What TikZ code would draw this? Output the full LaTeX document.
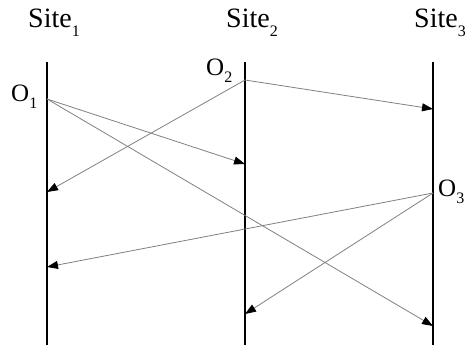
\documentclass[tikz,border=0pt]{standalone}
\usepackage{fontspec}
\setmainfont{Liberation Serif}
\usetikzlibrary{arrows.meta}
\newcommand{\lowsub}[1]{\raisebox{-0.3em}{\fontsize{16}{17}\selectfont #1}}
\begin{document}
\begin{tikzpicture}[x=1pt,y=-1pt,
  siteline/.style={line width=2.8pt,black},
  msg/.style={draw=gray,line width=0.8pt,-{Triangle[length=11pt,width=8pt,color=black]}},
  sitelabel/.style={inner sep=0pt,anchor=base west,font=\fontsize{28}{32}\selectfont},
  olabel/.style={inner sep=0pt,anchor=base west,font=\fontsize{25}{29}\selectfont}]
\useasboundingbox (0,0) rectangle (466,345);
% site lines
\coordinate (s1t) at (47,62); \coordinate (s1b) at (47,345);
\coordinate (s2t) at (245,62); \coordinate (s2b) at (245,345);
\coordinate (s3t) at (433,62); \coordinate (s3b) at (433,345);
\draw[siteline] (s1t) -- (s1b);
\draw[siteline] (s2t) -- (s2b);
\draw[siteline] (s3t) -- (s3b);
% labels
\node[sitelabel] (site1) at (28,28) {Site\lowsub{1}};
\node[sitelabel] (site2) at (226,28) {Site\lowsub{2}};
\node[sitelabel] (site3) at (414,28) {Site\lowsub{3}};
\node[olabel] (o1l) at (11,101) {O\lowsub{1}};
\node[olabel] (o2l) at (206,75) {O\lowsub{2}};
\node[olabel] (o3l) at (438,196) {O\lowsub{3}};
% events
\coordinate (O1) at (47,99);
\coordinate (O2) at (245,80);
\coordinate (O3) at (433,193);
\coordinate (r12) at (245,164);
\coordinate (r13) at (433,326);
\coordinate (r21) at (47,192);
\coordinate (r23) at (433,109);
\coordinate (r31) at (47,267);
\coordinate (r32) at (245,314);
\draw[msg] (O1) -- (r12);
\draw[msg] (O1) -- (r13);
\draw[msg] (O2) -- (r21);
\draw[msg] (O2) -- (r23);
\draw[msg] (O3) -- (r31);
\draw[msg] (O3) -- (r32);
\end{tikzpicture}
\end{document}
